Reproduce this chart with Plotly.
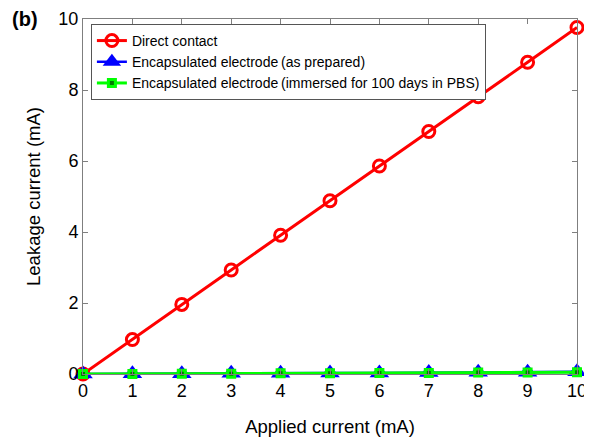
import plotly.graph_objects as go

applied = [0, 1, 2, 3, 4, 5, 6, 7, 8, 9, 10]
direct = [0.0, 0.97, 1.96, 2.93, 3.91, 4.88, 5.86, 6.83, 7.81, 8.78, 9.76]
encap_prepared = [0.0, 0.01, 0.01, 0.02, 0.02, 0.03, 0.03, 0.04, 0.05, 0.05, 0.06]
encap_immersed = [0.0, 0.0, 0.01, 0.01, 0.02, 0.02, 0.03, 0.03, 0.04, 0.04, 0.05]
x_ticks = [0, 1, 2, 3, 4, 5, 6, 7, 8, 9, 10]
y_ticks = [0, 2, 4, 6, 8, 10]

FONT = "Liberation Sans, Arial, Helvetica, sans-serif"

fig = go.Figure()
fig.add_trace(go.Scatter(
    x=applied, y=direct, name="Direct contact", mode="lines+markers",
    line=dict(color="#ff0000", width=3),
    marker=dict(symbol="circle-open", size=12, color="#ff0000", line=dict(width=3, color="#ff0000")),
    cliponaxis=False,
))
fig.add_trace(go.Scatter(
    x=applied, y=encap_prepared, name="Encapsulated electrode\u2009(as prepared)", mode="lines+markers",
    line=dict(color="#0000ff", width=2.5),
    marker=dict(symbol="triangle-up", size=17, color="#0000ff"),
    cliponaxis=False,
))
fig.add_trace(go.Scatter(
    x=applied, y=encap_immersed, name="Encapsulated electrode\u2009(immersed for 100 days in PBS)", mode="lines+markers",
    line=dict(color="#00ff00", width=3),
    marker=dict(symbol="square", size=7, color="#007a00", line=dict(width=3, color="#00ff00")),
    cliponaxis=False,
))

axis_common = dict(
    showgrid=False, zeroline=False, showline=True, linecolor="#7f7f7f", linewidth=1,
    mirror="ticks", ticks="inside", ticklen=5, tickcolor="#7f7f7f", automargin=False,
    tickfont=dict(family=FONT, size=18, color="#000000"),
)
fig.update_xaxes(range=[0, 10], tickvals=x_ticks, ticktext=[str(v) for v in x_ticks],
                 title=dict(text="Applied current (mA)", font=dict(family=FONT, size=18.5, color="#000"), standoff=20),
                 **axis_common)
fig.update_yaxes(range=[0, 10], tickvals=y_ticks, ticktext=[str(v) for v in y_ticks],
                 title=dict(text="Leakage current (mA)", font=dict(family=FONT, size=18.5, color="#000"), standoff=12),
                 **axis_common)

fig.update_layout(
    width=592, height=440,
    margin=dict(l=75, r=23, t=11, b=74),
    paper_bgcolor="white", plot_bgcolor="white",
    font=dict(family=FONT, color="#000"),
    showlegend=True,
    legend=dict(x=0.016, y=0.986, xanchor="left", yanchor="top",
                bgcolor="white", bordercolor="#555555", borderwidth=1,
                font=dict(family=FONT, size=14, color="#000"),
                tracegroupgap=0, itemwidth=30),
    annotations=[dict(text="<b>(b)</b>", xref="paper", yref="paper", x=-0.148, y=1.0,
                      xanchor="left", yanchor="middle", showarrow=False,
                      font=dict(family=FONT, size=20, color="#000"))],
)

fig.write_html("out.html")
